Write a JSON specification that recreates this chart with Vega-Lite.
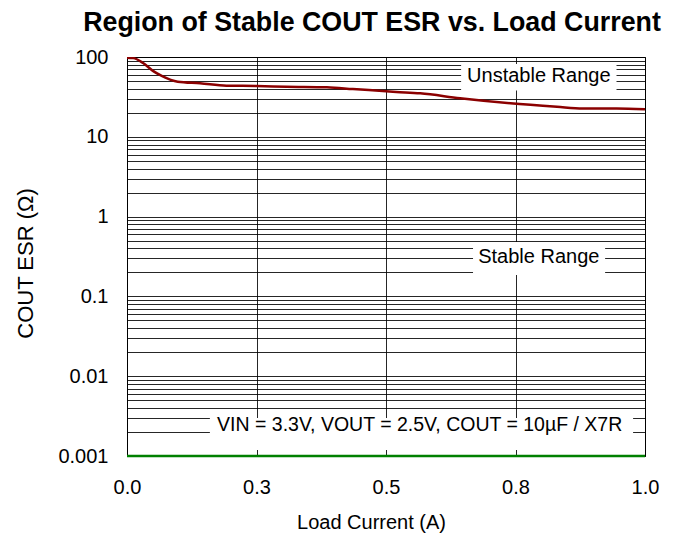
{
  "$schema": "https://vega.github.io/schema/vega-lite/v6.json",
  "width": 518,
  "height": 399,
  "autosize": {"type": "none"},
  "padding": {"left": 127, "top": 57, "right": 34, "bottom": 80},
  "background": "white",
  "title": {
    "text": "Region of Stable COUT ESR vs. Load Current",
    "font": "Liberation Sans",
    "fontSize": 26.8,
    "fontWeight": "bold",
    "color": "black",
    "anchor": "middle",
    "dx": -14,
    "offset": 10
  },
  "config": {
    "view": {"stroke": "black", "strokeWidth": 1},
    "axis": {
      "labelFont": "Liberation Sans",
      "titleFont": "Liberation Sans",
      "labelColor": "black",
      "titleColor": "black",
      "labelFontSize": 20,
      "titleFontSize": 20,
      "titleFontWeight": "normal",
      "labelFlush": false,
      "gridColor": "black",
      "gridOpacity": 0.85,
      "gridWidth": 1,
      "domain": false,
      "ticks": false
    }
  },
  "datasets": {
    "curve": [
      {"current": 0.0, "esr": 98},
      {"current": 0.012, "esr": 97},
      {"current": 0.031, "esr": 84},
      {"current": 0.05, "esr": 67},
      {"current": 0.067, "esr": 58},
      {"current": 0.098, "esr": 49},
      {"current": 0.141, "esr": 46.8},
      {"current": 0.192, "esr": 43.7},
      {"current": 0.25, "esr": 43.3},
      {"current": 0.308, "esr": 42.4},
      {"current": 0.386, "esr": 41.7},
      {"current": 0.436, "esr": 39.7},
      {"current": 0.52, "esr": 36.5},
      {"current": 0.566, "esr": 35.1},
      {"current": 0.643, "esr": 30.4},
      {"current": 0.74, "esr": 26.3},
      {"current": 0.83, "esr": 23.8},
      {"current": 0.88, "esr": 22.7},
      {"current": 0.945, "esr": 22.7},
      {"current": 1.0, "esr": 22.1}
    ],
    "floor": [
      {"current": 0.0, "esr": 0.001},
      {"current": 1.0, "esr": 0.001}
    ],
    "labels": [
      {"label": "Unstable Range", "x": 0.795, "y": 57.8, "x1": 0.645, "x2": 0.945, "y1": 82, "y2": 38, "size": 20},
      {"label": "Stable Range", "x": 0.795, "y": 0.314, "x1": 0.668, "x2": 0.923, "y1": 0.48, "y2": 0.185, "size": 20},
      {"label": "VIN = 3.3V, VOUT = 2.5V, COUT = 10µF / X7R", "x": 0.565, "y": 0.00244, "x1": 0.16, "x2": 0.977, "y1": 0.00299, "y2": 0.00119, "size": 19.5}
    ]
  },
  "layer": [
    {
      "data": {"name": "labels"},
      "mark": {"type": "rect", "fill": "white", "stroke": null},
      "encoding": {
        "x": {
          "field": "x1", "type": "quantitative",
          "scale": {"domain": [0, 1], "nice": false},
          "axis": {
            "values": [0, 0.25, 0.5, 0.75, 1],
            "format": ".1f",
            "title": "Load Current (A)",
            "titleX": 244,
            "labelPadding": 21,
            "titlePadding": 15,
            "grid": true
          }
        },
        "x2": {"field": "x2"},
        "y": {
          "field": "y1", "type": "quantitative",
          "scale": {"type": "log", "domain": [0.001, 100], "nice": false},
          "axis": {
            "values": [0.001, 0.002, 0.003, 0.004, 0.005, 0.006, 0.007, 0.008, 0.009,
                       0.01, 0.02, 0.03, 0.04, 0.05, 0.06, 0.07, 0.08, 0.09,
                       0.1, 0.2, 0.3, 0.4, 0.5, 0.6, 0.7, 0.8, 0.9,
                       1, 2, 3, 4, 5, 6, 7, 8, 9,
                       10, 20, 30, 40, 50, 60, 70, 80, 90, 100],
            "labelExpr": "indexof(['0.001','0.01','0.1','1','10','100'], format(datum.value, '~g')) >= 0 ? format(datum.value, '~g') : ''",
            "title": "COUT ESR (Ω)",
            "titleFontSize": 22,
            "titleY": 206,
            "labelPadding": 19,
            "titlePadding": 20,
            "grid": true
          }
        },
        "y2": {"field": "y2"}
      }
    },
    {
      "data": {"name": "curve"},
      "mark": {"type": "line", "color": "#8B0000", "strokeWidth": 2.5, "interpolate": "monotone", "clip": true},
      "encoding": {
        "x": {"field": "current", "type": "quantitative"},
        "y": {"field": "esr", "type": "quantitative"}
      }
    },
    {
      "data": {"name": "floor"},
      "mark": {"type": "line", "color": "#008000", "strokeWidth": 2.5},
      "encoding": {
        "x": {"field": "current", "type": "quantitative"},
        "y": {"field": "esr", "type": "quantitative"}
      }
    },
    {
      "data": {"name": "labels"},
      "mark": {"type": "text", "font": "Liberation Sans", "color": "black", "align": "center", "baseline": "middle"},
      "encoding": {
        "x": {"field": "x", "type": "quantitative"},
        "y": {"field": "y", "type": "quantitative"},
        "text": {"field": "label"},
        "size": {"field": "size", "type": "quantitative", "scale": null}
      }
    }
  ]
}
